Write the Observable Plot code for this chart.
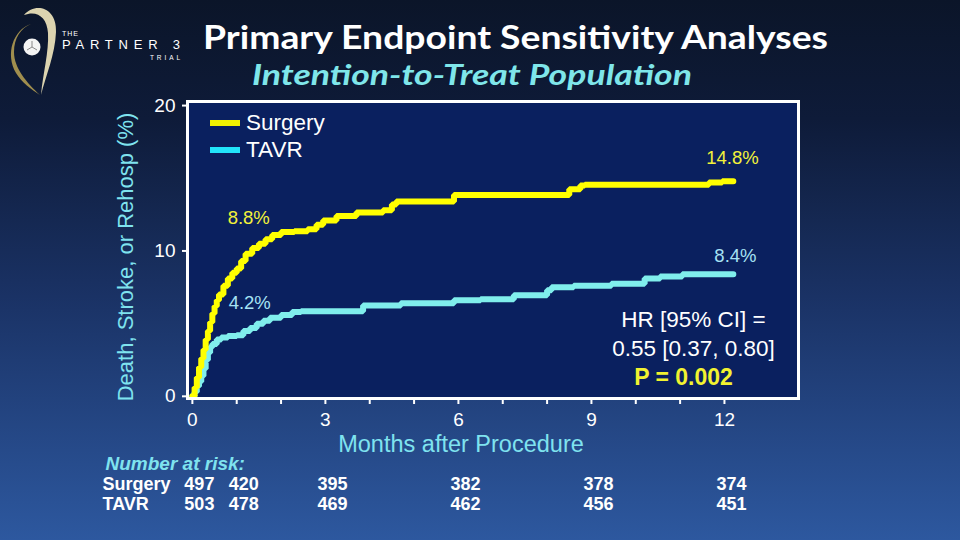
<!DOCTYPE html>
<html>
<head>
<meta charset="utf-8">
<script src="https://cdn.jsdelivr.net/npm/d3@7"></script>
<script src="https://cdn.jsdelivr.net/npm/@observablehq/plot@0.6"></script>
<style>
  html, body { margin: 0; padding: 0; }
  #slide {
    position: relative; width: 960px; height: 540px; overflow: hidden;
    background: linear-gradient(to bottom, #0b1529 0%, #0e1b39 22%, #1a3265 55%, #2d589f 100%);
    font-family: "Liberation Sans", Arial, sans-serif;
  }
  #chart, #header { position: absolute; left: 0; top: 0; }
  #legend { position: absolute; left: 210px; top: 109px; color: white; font-size: 22.5px; }
  #legend .row { display: flex; align-items: center; height: 27px; }
  #legend .sw { display: inline-block; width: 30px; height: 6px; margin-right: 6px; }
</style>
</head>
<body>
<div id="slide">
  <div id="chart"></div>
  <svg id="header" width="960" height="100">
    <!-- trial logo -->
    <path d="M24,15 C35,2 57,7 56,32 C55,55 46,75 41,95 C43,73 49,52 48,33 C47,17 37,10 24,15 Z" fill="#dcd4b0"/>
    <path d="M31,24 C13,30 5,54 16,73 C22,83 31,89 40,95 C27,83 14,68 14,52 C14,38 21,28 31,24 Z" fill="#a08e4e"/>
    <circle cx="32" cy="47" r="8.5" fill="#f4f4f4"/>
    <path d="M32,47 L32,41 M32,47 L27,50 M32,47 L37,50" stroke="#8a8a8a" stroke-width="1"/>
    <text x="62" y="36" font-family="Liberation Sans" font-size="7" fill="white" textLength="16" lengthAdjust="spacing">THE</text>
    <text x="62" y="49" font-family="Liberation Sans" font-size="13" fill="white" textLength="118" lengthAdjust="spacing">PARTNER 3</text>
    <text x="150" y="60" font-family="Liberation Sans" font-size="6.5" fill="white" textLength="30" lengthAdjust="spacing">TRIAL</text>
    <!-- headings -->
    <text x="515.5" y="49" text-anchor="middle" font-family="Lato" font-weight="bold" font-size="33" fill="white" textLength="625" lengthAdjust="spacingAndGlyphs">Primary Endpoint Sensitivity Analyses</text>
    <text x="472" y="85" text-anchor="middle" font-family="Lato" font-weight="bold" font-style="italic" font-size="29" fill="#7fe6ea" textLength="440" lengthAdjust="spacingAndGlyphs">Intention-to-Treat Population</text>
  </svg>
  <div id="legend">
    <div class="row"><span class="sw" style="background:#f2f200"></span>Surgery</div>
    <div class="row"><span class="sw" style="background:#22e4fb"></span>TAVR</div>
  </div>
</div>
<script>
// Kaplan-Meier estimates: months after procedure and cumulative event rate (%)
const surgeryMonths = [0, 0.05, 0.1, 0.15, 0.2, 0.25, 0.3, 0.35, 0.4, 0.45, 0.5, 0.55, 0.6, 0.7, 0.8, 0.9, 1.0,
  1.1, 1.2, 1.35, 1.5, 1.65, 1.8, 2.0, 2.3, 2.6, 2.8, 2.95, 3.25, 3.7, 4.3, 4.5, 4.6, 5.9, 8.5, 8.75, 8.85, 11.65, 11.95, 12.2];
const surgeryRate = [0, 0.6, 1.3, 2.0, 2.6, 3.2, 3.9, 4.5, 5.1, 5.7, 6.2, 6.6, 7.0, 7.6, 8.1, 8.5, 8.8,
  9.3, 9.8, 10.2, 10.5, 10.8, 11.1, 11.3, 11.35, 11.5, 11.8, 12.1, 12.4, 12.65, 12.8, 13.2, 13.4, 13.85, 14.25, 14.5, 14.55, 14.7, 14.8, 14.8];

const tavrMonths = [0, 0.05, 0.1, 0.15, 0.2, 0.25, 0.3, 0.35, 0.4, 0.45, 0.55, 0.65, 0.8, 1.0,
  1.15, 1.3, 1.45, 1.6, 1.75, 2.0, 2.25, 2.45, 3.85, 4.7, 5.9, 6.5, 7.25, 8.0, 8.1, 8.6, 9.45, 10.2, 10.55, 11.05, 12.2];
const tavrRate = [0, 0.3, 0.7, 1.0, 1.4, 1.9, 2.5, 3.0, 3.4, 3.6, 3.9, 4.05, 4.15, 4.2,
  4.5, 4.7, 5.0, 5.2, 5.4, 5.6, 5.8, 5.85, 6.25, 6.4, 6.6, 6.67, 6.95, 7.3, 7.5, 7.6, 7.75, 8.1, 8.25, 8.4, 8.4];

// Number at risk
const riskMonths = [0, 1, 3, 6, 9, 12];
const riskSurgery = [497, 420, 395, 382, 378, 374];
const riskTavr = [503, 478, 469, 462, 456, 451];

const monthTicks = [0, 1, 2, 3, 4, 5, 6, 7, 8, 9, 10, 11, 12];
const rateTicks = [0, 10, 20];

const hrText = "HR [95% CI] =\n0.55 [0.37, 0.80]";
const pText = "P = 0.002";

const surgery = surgeryMonths.map((t, i) => ({t, v: surgeryRate[i]}));
const tavr = tavrMonths.map((t, i) => ({t, v: tavrRate[i]}));

// value of a step curve at a given month
function valueAt(curve, m) {
  let v = 0;
  for (const d of curve) if (d.t <= m + 1e-9) v = d.v;
  return v;
}
const surgery30 = {t: 1, v: valueAt(surgery, 1)};
const tavr30 = {t: 1, v: valueAt(tavr, 1)};
const surgeryEnd = {t: 12, v: surgery[surgery.length - 1].v};
const tavrEnd = {t: 12, v: tavr[tavr.length - 1].v};
const pct = d => d.v.toFixed(1) + "%";

const risk = riskMonths.map((m, i) => ({m, s: riskSurgery[i], t: riskTavr[i]}));

const cyanText = "#7fe3ef";
const font = "Liberation Sans, Arial, sans-serif";

const chart = Plot.plot({
  width: 960,
  height: 540,
  marginLeft: 187,
  marginRight: 162,
  marginTop: 101,
  marginBottom: 142,
  x: {domain: [-0.11, 13.67]},
  y: {domain: [-0.15, 20.28]},
  style: {background: "transparent", color: "white", fontFamily: font, overflow: "visible"},
  marks: [
    Plot.frame({fill: "#0a205f"}),
    Plot.line(tavr, {x: "t", y: "v", curve: "step-after", stroke: "#80eeec", strokeWidth: 6, strokeLinejoin: "miter"}),
    Plot.line(surgery, {x: "t", y: "v", curve: "step-after", stroke: "#ffff00", strokeWidth: 6, strokeLinejoin: "miter"}),
    Plot.frame({stroke: "white", strokeWidth: 3}),
    Plot.axisX({ticks: monthTicks, tickSize: 6, tickPadding: 8, strokeWidth: 2,
      tickFormat: d => d % 3 === 0 ? String(d) : "", fontSize: 19, label: null}),
    Plot.axisY({ticks: rateTicks, tickSize: 5, tickPadding: 7, strokeWidth: 2, fontSize: 19, label: null}),
    // rate labels at 30 days and 1 year
    Plot.text([surgery30], {x: "t", y: "v", text: pct, dx: 12, dy: -50, fill: "#f2f23a", fontSize: 18.5}),
    Plot.text([tavr30], {x: "t", y: "v", text: pct, dx: 13, dy: -32, fill: "#a6e2f4", fontSize: 18.5}),
    Plot.text([surgeryEnd], {x: "t", y: "v", text: pct, dx: 8, dy: -23, fill: "#f2f23a", fontSize: 18.5}),
    Plot.text([tavrEnd], {x: "t", y: "v", text: pct, dx: 11, dy: -18, fill: "#a6e2f4", fontSize: 18.5}),
    // hazard ratio
    Plot.text([hrText], {frameAnchor: "bottom-right", textAnchor: "middle", lineAnchor: "middle",
      dx: -105, dy: -66, lineHeight: 1.27, fill: "white", fontSize: 22.5}),
    Plot.text([pText], {frameAnchor: "bottom-right", textAnchor: "middle", lineAnchor: "middle",
      dx: -115, dy: -21, fill: "#f2f230", fontSize: 23, fontWeight: "bold"}),
    // axis titles
    Plot.text(["Death, Stroke, or Rehosp (%)"], {frameAnchor: "left", textAnchor: "middle", lineAnchor: "middle",
      rotate: -90, dx: -62, dy: 7, fill: cyanText, fontSize: 22}),
    Plot.text(["Months after Procedure"], {frameAnchor: "bottom", textAnchor: "middle", lineAnchor: "middle",
      dx: -32, dy: 46, fill: cyanText, fontSize: 23.5}),
    // number at risk table
    Plot.text(["Number at risk:"], {frameAnchor: "bottom-left", textAnchor: "start", lineAnchor: "middle",
      dx: -82, dy: 65, fill: cyanText, fontSize: 19, fontWeight: "bold", fontStyle: "italic"}),
    Plot.text(["Surgery"], {frameAnchor: "bottom-left", textAnchor: "start", lineAnchor: "middle",
      dx: -85, dy: 86, fill: "white", fontSize: 18, fontWeight: "bold"}),
    Plot.text(["TAVR"], {frameAnchor: "bottom-left", textAnchor: "start", lineAnchor: "middle",
      dx: -85, dy: 106, fill: "white", fontSize: 18, fontWeight: "bold"}),
    Plot.text(risk, {x: "m", text: "s", frameAnchor: "bottom", lineAnchor: "middle",
      dx: 7, dy: 86, fill: "white", fontSize: 18, fontWeight: "bold"}),
    Plot.text(risk, {x: "m", text: "t", frameAnchor: "bottom", lineAnchor: "middle",
      dx: 7, dy: 106, fill: "white", fontSize: 18, fontWeight: "bold"})
  ]
});
document.getElementById("chart").appendChild(chart);
</script>
</body>
</html>
